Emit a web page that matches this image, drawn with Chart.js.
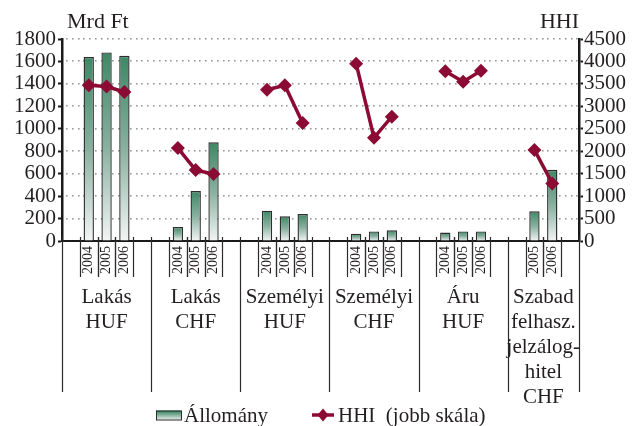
<!DOCTYPE html>
<html lang="hu">
<head>
<meta charset="utf-8">
<title>Állomány és HHI</title>
<script src="https://cdn.jsdelivr.net/npm/chart.js@4/dist/chart.umd.min.js"></script>
<style>
  html, body { margin: 0; padding: 0; background: #ffffff; }
  #wrap { width: 633px; height: 426px; }
</style>
</head>
<body>
<div id="wrap"><canvas id="chart" width="633" height="426"></canvas></div>
<script>
// Loan categories (multi-line labels under the axis)
const groupNames = [
  ['Lakás', 'HUF'],
  ['Lakás', 'CHF'],
  ['Személyi', 'HUF'],
  ['Személyi', 'CHF'],
  ['Áru', 'HUF'],
  ['Szabad', 'felhasz.', 'jelzálog-', 'hitel', 'CHF']
];
// Years shown within each category
const groupYears = [
  ['2004', '2005', '2006'],
  ['2004', '2005', '2006'],
  ['2004', '2005', '2006'],
  ['2004', '2005', '2006'],
  ['2004', '2005', '2006'],
  ['2005', '2006']
];
// Outstanding stock, Mrd Ft (left scale)
const stockValues = [
  [1640, 1680, 1650],
  [125, 445, 880],
  [270, 220, 240],
  [65, 85, 95],
  [75, 85, 85],
  [265, 635]
];
// Herfindahl–Hirschman index (right scale)
const hhiValues = [
  [3470, 3440, 3320],
  [2070, 1580, 1490],
  [3370, 3470, 2630],
  [3950, 2300, 2770],
  [3780, 3550, 3790],
  [2030, 1280]
];
const leftTicks = [0, 200, 400, 600, 800, 1000, 1200, 1400, 1600, 1800];
const rightTicks = [0, 500, 1000, 1500, 2000, 2500, 3000, 3500, 4000, 4500];
const leftTitle = 'Mrd Ft';
const rightTitle = 'HHI';
const legendLabels = ['Állomány', 'HHI  (jobb skála)'];

const FONT = '"Liberation Serif", "Times New Roman", serif';
const TEXT = '#231f20';
const GREEN_TOP = '#3e8865';
const GREEN_BOTTOM = '#f3f5f5';
const HHI_COLOR = '#8c0b34';

// Flatten groups into category slots: an empty slot before and after each group's years
const slotYears = [];
const slotStock = [];
const slotHhi = [];
const groupStart = [];
groupYears.forEach((years, g) => {
  groupStart.push(slotYears.length);
  slotYears.push(''); slotStock.push(null); slotHhi.push(null);
  years.forEach((yr, k) => {
    slotYears.push(yr);
    slotStock.push(stockValues[g][k]);
    slotHhi.push(hhiValues[g][k]);
  });
  slotYears.push(''); slotStock.push(null); slotHhi.push(null);
});
groupStart.push(slotYears.length);

function barGradient(ctx) {
  const chart = ctx.chart;
  if (!chart.chartArea || ctx.type !== 'data' || ctx.raw == null) return GREEN_TOP;
  const y = chart.scales.y;
  const top = y.getPixelForValue(ctx.raw);
  const bottom = y.getPixelForValue(0);
  const g = chart.ctx.createLinearGradient(0, top, 0, bottom);
  g.addColorStop(0, GREEN_TOP);
  g.addColorStop(0.5, '#88b0a0');
  g.addColorStop(1, GREEN_BOTTOM);
  return g;
}

function diamond(c, x, y, rx, ry) {
  c.beginPath();
  c.moveTo(x, y - ry);
  c.lineTo(x + rx, y);
  c.lineTo(x, y + ry);
  c.lineTo(x - rx, y);
  c.closePath();
  c.fill();
}

// Dotted horizontal guides at the left-scale ticks, placed behind everything else
const dottedGrid = {
  id: 'dottedGrid',
  afterDraw(chart) {
    const c = chart.ctx;
    const ys = chart.scales.y;
    const area = chart.chartArea;
    c.save();
    c.globalCompositeOperation = 'destination-over';
    c.fillStyle = '#9a9a9a';
    leftTicks.forEach(v => {
      if (v === 0) return;
      const y = Math.round(ys.getPixelForValue(v));
      for (let x = area.left + 4; x < area.right - 2; x += 5.8) {
        c.fillRect(Math.round(x), y - 1, 1.6, 1.6);
      }
    });
    c.restore();
  }
};

// Category separators, group captions, axis titles and legend
const decorations = {
  id: 'decorations',
  afterDraw(chart) {
    const c = chart.ctx;
    const xs = chart.scales.x;
    const area = chart.chartArea;
    const step = xs.getPixelForValue(1) - xs.getPixelForValue(0);
    const edge = i => xs.getPixelForValue(i) - step / 2;
    const axisY = area.bottom;

    c.save();
    c.strokeStyle = '#2b2b2b';
    c.lineWidth = 1.2;
    // short lines around each year slot
    slotYears.forEach((yr, i) => {
      if (!yr) return;
      [edge(i), edge(i + 1)].forEach(x => {
        c.beginPath();
        c.moveTo(Math.round(x) + 0.5, axisY - 4);
        c.lineTo(Math.round(x) + 0.5, axisY + 36);
        c.stroke();
      });
    });
    // long lines between categories
    groupStart.forEach(i => {
      const x = Math.round(edge(i)) + 0.5;
      c.beginPath();
      c.moveTo(x, axisY - 4);
      c.lineTo(x, 392);
      c.stroke();
    });

    // group captions
    c.fillStyle = TEXT;
    c.font = '21px ' + FONT;
    c.textAlign = 'center';
    c.textBaseline = 'middle';
    groupNames.forEach((lines, g) => {
      const cx = (edge(groupStart[g]) + edge(groupStart[g + 1])) / 2;
      lines.forEach((t, k) => c.fillText(t, cx, 297 + k * 25));
    });

    // axis titles
    c.font = '22px ' + FONT;
    c.textAlign = 'left';
    c.fillText(leftTitle, area.left + 5, 22);
    c.textAlign = 'right';
    c.fillText(rightTitle, area.right, 22);

    // legend
    const ly = 416;
    const sx = 156, sw = 25, sh = 9;
    const g = c.createLinearGradient(0, ly - sh / 2, 0, ly + sh / 2);
    g.addColorStop(0, GREEN_TOP);
    g.addColorStop(1, GREEN_BOTTOM);
    c.fillStyle = g;
    c.fillRect(sx, ly - sh / 2 - 1, sw, sh);
    c.strokeStyle = '#2b2b2b';
    c.lineWidth = 1;
    c.strokeRect(sx + 0.5, ly - sh / 2 - 0.5, sw, sh);
    c.fillStyle = TEXT;
    c.font = '21px ' + FONT;
    c.textAlign = 'left';
    c.fillText(legendLabels[0], sx + sw + 3, ly);

    const hx = 312;
    c.strokeStyle = HHI_COLOR;
    c.lineWidth = 3.5;
    c.beginPath();
    c.moveTo(hx, ly - 1);
    c.lineTo(hx + 22, ly - 1);
    c.stroke();
    c.fillStyle = HHI_COLOR;
    diamond(c, hx + 11, ly - 1, 5.5, 6.5);
    c.fillStyle = TEXT;
    c.fillText(legendLabels[1], hx + 26, ly);
    c.restore();
  }
};

new Chart(document.getElementById('chart'), {
  data: {
    labels: slotYears,
    datasets: [
      {
        type: 'bar',
        label: legendLabels[0],
        data: slotStock,
        yAxisID: 'y',
        order: 2,
        backgroundColor: barGradient,
        borderColor: '#2e2e2e',
        borderWidth: 1.4,
        borderSkipped: 'bottom',
        barPercentage: 0.58,
        categoryPercentage: 1.0
      },
      {
        type: 'line',
        label: legendLabels[1],
        data: slotHhi,
        yAxisID: 'y1',
        order: 1,
        borderColor: HHI_COLOR,
        borderWidth: 3.5,
        backgroundColor: HHI_COLOR,
        pointStyle: 'rectRot',
        pointRadius: 7,
        pointBorderWidth: 0,
        pointBackgroundColor: HHI_COLOR,
        spanGaps: false,
        tension: 0
      }
    ]
  },
  options: {
    responsive: false,
    animation: false,
    layout: { padding: { top: 39, left: 0, right: 0, bottom: 0 } },
    plugins: {
      legend: { display: false },
      tooltip: { enabled: false }
    },
    scales: {
      x: {
        type: 'category',
        offset: true,
        grid: { display: false, drawTicks: false },
        border: { display: true, color: '#1a1a1a', width: 2 },
        ticks: {
          autoSkip: false,
          minRotation: 90,
          maxRotation: 90,
          padding: 5,
          color: TEXT,
          font: { family: FONT, size: 14 }
        },
        afterFit: s => { s.height = 185; }
      },
      y: {
        position: 'left',
        min: leftTicks[0],
        max: leftTicks[leftTicks.length - 1],
        afterBuildTicks: s => { s.ticks = leftTicks.map(v => ({ value: v })); },
        grid: {
          drawOnChartArea: false,
          drawTicks: true,
          tickLength: 4,
          tickColor: '#1a1a1a',
          tickWidth: 2
        },
        border: { display: true, color: '#1a1a1a', width: 2.5 },
        ticks: {
          autoSkip: false,
          padding: 2,
          color: TEXT,
          font: { family: FONT, size: 21 },
          callback: v => String(v)
        },
        afterFit: s => { s.width = 62; }
      },
      y1: {
        position: 'right',
        min: rightTicks[0],
        max: rightTicks[rightTicks.length - 1],
        afterBuildTicks: s => { s.ticks = rightTicks.map(v => ({ value: v })); },
        grid: {
          drawOnChartArea: false,
          drawTicks: true,
          tickLength: 4,
          tickColor: '#1a1a1a',
          tickWidth: 2
        },
        border: { display: true, color: '#1a1a1a', width: 2.5 },
        ticks: {
          autoSkip: false,
          padding: 1,
          color: TEXT,
          font: { family: FONT, size: 21 },
          callback: v => String(v)
        },
        afterFit: s => { s.width = 54; }
      }
    }
  },
  plugins: [dottedGrid, decorations]
});
</script>
</body>
</html>
